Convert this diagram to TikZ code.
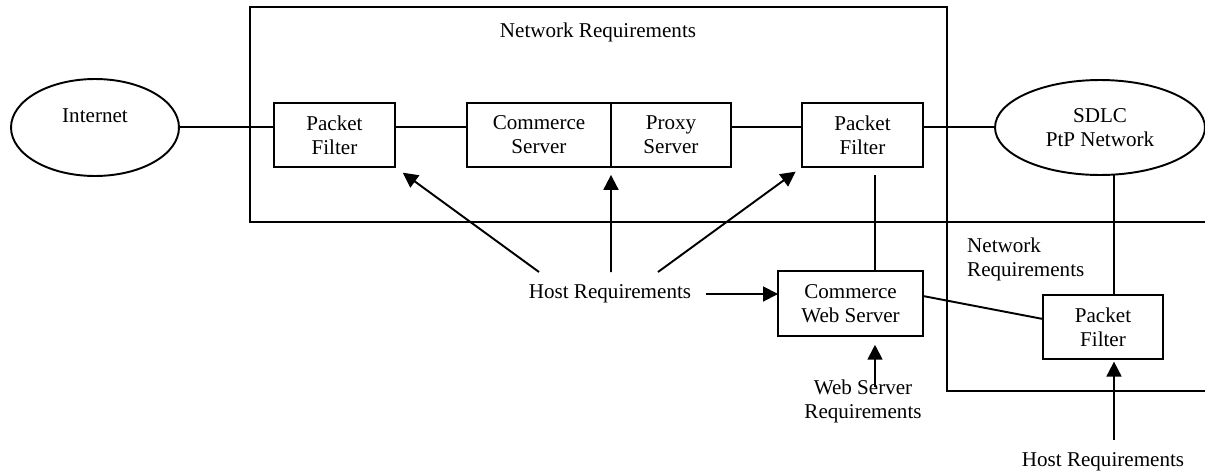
\documentclass[tikz,border=0pt]{standalone}
\usepackage{fontspec}
\setmainfont{Liberation Serif}
\usepackage{tikz}
\usetikzlibrary{positioning}
\usetikzlibrary{shapes,arrows.meta,positioning}
\tikzstyle{block} = [rectangle, draw, line width=1.1pt, align=center,
minimum height=1.28cm, inner sep=0pt, outer sep=0pt]
\tikzstyle{cloud} = [ellipse, draw, line width=1.1pt, align=center, inner sep=0pt]
\tikzstyle{line} = [draw, line width=1.1pt]
\tikzstyle{arrow} = [draw, line width=1.1pt, -{Triangle[length=8.5pt,width=8.5pt]}]

\begin{document}
\begin{tikzpicture}[x=0.02cm, y=-0.02cm, align=center, font=\fontsize{12}{13.6}\selectfont]
    \useasboundingbox (0,0) rectangle (1205,474);
    % frames
    \draw [line width=1.1pt] (250,7) rectangle (947,222);
    \draw [line width=1.1pt] (1205,222) -| (947,391) -- (1205,391);

    % nodes
    \node (netreq) at (598,32) {Network Requirements};
    \node (inet) [cloud, minimum width=3.36cm, minimum height=1.94cm] at (95,127.5) {Internet\\\mbox{}};
    \node (pfa) [block, minimum width=2.42cm] at (334.5,135) {Packet\\Filter};
    \node (com) [block, minimum width=2.88cm] at (539,135) {Commerce\\Server};
    \node (proxy) [block, minimum width=2.4cm, right=0pt of com] {Proxy\\Server};
    \node (pfb) [block, minimum width=2.42cm] at (862.5,135) {Packet\\Filter};
    \node (sdlc) [cloud, minimum width=4.2cm, minimum height=1.9cm] at (1100,127.5) {SDLC\\PtP Network};
    \node (host) at (610,294) {Host Requirements};
    \node (web) [block, minimum width=2.9cm, minimum height=1.3cm] at (850.5,303.5) {Commerce\\Web Server};
    \node (wsreq) at (863,401) {Web Server\\Requirements};
    \node (netreqb) [anchor=north west, align=left] at (961,232) {Network\\Requirements};
    \node (pfc) [block, minimum width=2.4cm] at (1103,327) {Packet\\Filter};
    \node (hostb) at (1103,462) {Host Requirements};

    % edges
    \coordinate (bus) at (0,127);
    \path [line] (inet.east |- bus) -- (bus -| pfa.west);
    \path [line] (pfa.east |- bus) -- (bus -| com.west);
    \path [line] (proxy.east |- bus) -- (bus -| pfb.west);
    \path [line] (pfb.east |- bus) -- (bus -| sdlc.west);

    \coordinate (hl) at (539,272);
    \coordinate (hm) at (611,272);
    \coordinate (hr) at (658,272);
    \path [arrow, shorten >=5.5pt] (hl) -- (pfa.south east);
    \path [arrow, shorten >=4.5pt] (hm) -- (com.south east);
    \path [arrow, shorten >=4.5pt] (hr) -- (pfb.south west);
    \path [arrow, shorten <=5pt] (host.east) -- (host.east -| web.west);

    \coordinate (wl) at (875,175);
    \path [line] (wl) -- (wl |- web.north);
    \coordinate (wa) at (875,387);
    \path [arrow, shorten >=5pt] (wa) -- (wa |- web.south);
    \path [line] ([yshift=0.15cm]web.east) -- ([yshift=0.16cm]pfc.west);

    \coordinate (sl) at (1114,175);
    \path [line] (sl) -- (sl |- pfc.north);
    \coordinate (ha) at (1114,440);
    \path [arrow, shorten >=1.5pt] (ha) -- (ha |- pfc.south);
\end{tikzpicture}
\end{document}
